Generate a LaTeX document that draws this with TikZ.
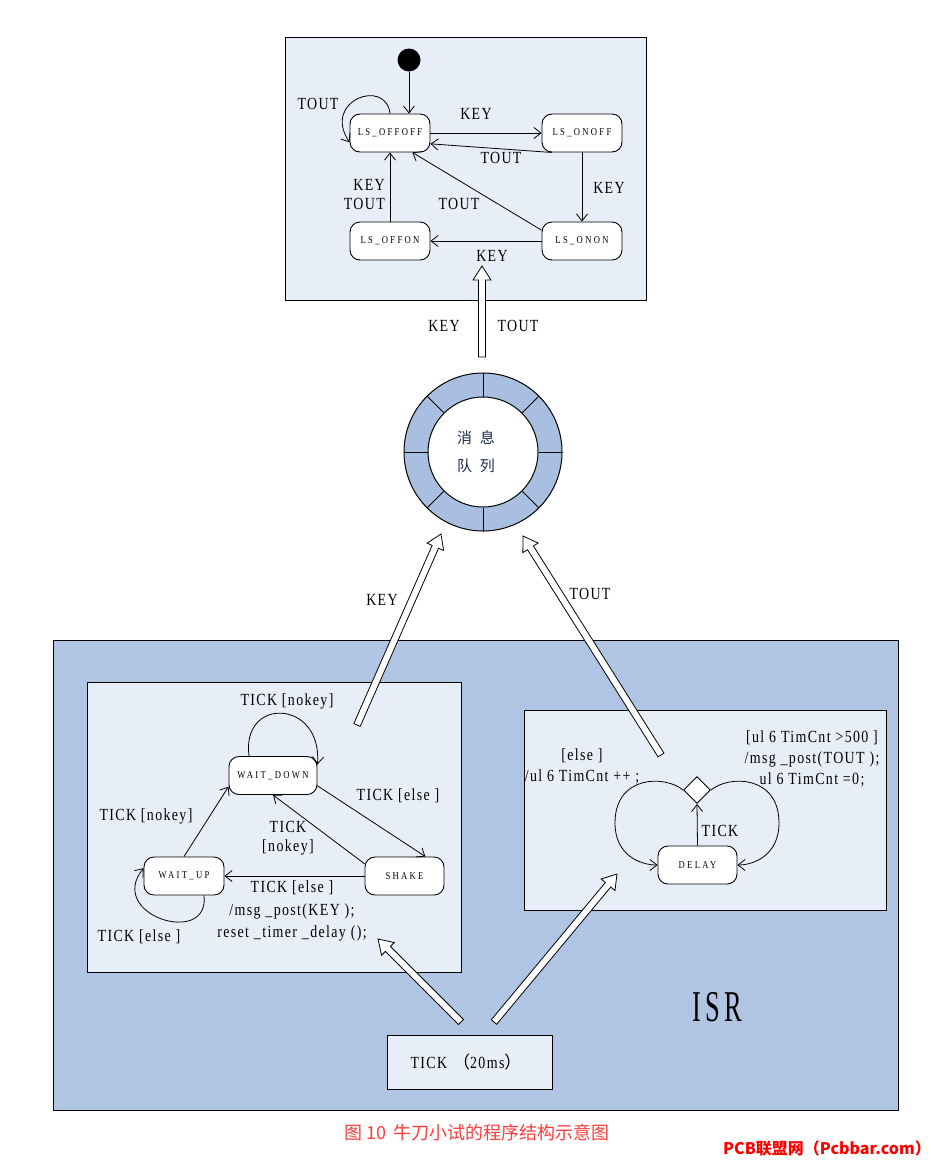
\documentclass[tikz,border=0pt]{standalone}
\usepackage{fontspec}
\setmainfont{Liberation Serif}[FakeStretch=0.82, LetterSpace=8]
\newfontfamily\statefont{Liberation Serif}[FakeStretch=0.82, LetterSpace=22]
\newfontfamily\isrfont{Liberation Serif}[FakeStretch=0.6, LetterSpace=10]
\newfontfamily\cjk{Noto Sans CJK SC}
\usetikzlibrary{arrows.meta,calc,shapes.geometric}
\definecolor{lightbg}{HTML}{E8EEF8}
\definecolor{isrbg}{HTML}{AFC5E3}
\definecolor{ringc}{HTML}{A9BFE1}
\definecolor{capred}{HTML}{FF3B3B}
\definecolor{qtext}{HTML}{1F2A55}
\tikzset{
  state/.style={draw, fill=white, rounded corners=10pt, minimum width=80pt, minimum height=38pt, inner sep=0pt, font=\statefont\fontsize{10.5}{12}\selectfont, line width=0.9pt},
  arr/.style={-{Straight Barb[length=7pt,width=11pt]}, line width=0.8pt},
  lbl/.style={inner sep=0pt, font=\fontsize{17}{19}\selectfont, align=center},
  box/.style={draw, line width=1pt, anchor=north west, inner sep=0pt},
  hollow/.style={draw, fill=white, line width=0.8pt, line join=miter},
}
\newcommand{\hollowarr}[2]{%
  \coordinate (hA) at (#1);
  \coordinate (hB) at (#2);
  \coordinate (hH) at ($(hB)!14pt!(hA)$);
  \draw[hollow] ($(hA)!3.5pt!90:(hB)$) -- ($(hH)!3.5pt!90:(hB)$) -- ($(hH)!9pt!90:(hB)$) -- (hB)
     -- ($(hH)!9pt!-90:(hB)$) -- ($(hH)!3.5pt!-90:(hB)$) -- ($(hA)!3.5pt!-90:(hB)$) -- cycle;}
\begin{document}
\begin{tikzpicture}[x=1pt,y=-1pt]
\useasboundingbox (0,0) rectangle (930,1163);

% ---------- top state machine ----------
\node[box, fill=lightbg, minimum width=361pt, minimum height=263pt] (topbox) at (285,37) {};
\node[circle, fill=black, minimum size=23pt, inner sep=0pt] (init) at (409,60) {};
\node[state] (offoff) at (390,133) {LS\_OFFOFF};
\node[state] (onoff) at (582,133) {LS\_ONOFF};
\node[state] (offon) at (390,241) {LS\_OFFON};
\node[state] (onon) at (582,241) {LS\_ONON};

\draw[arr] (init.south) -- (init.south |- offoff.north);
\draw[arr] (offoff.north) .. controls +(-4,-36) and +(-28,-42) .. (offoff.193);
\draw[arr] (offoff.east) -- (onoff.west);
\draw[arr] ([xshift=10pt]onoff.south west) -- (offoff.-15);
\draw[arr] (onoff.south) -- (onon.north);
\draw[arr] (onon.west) -- (offon.east);
\draw[arr] (onon.165) -- (offoff.-41);
\draw[arr] (offon.north) -- (offoff.south);

\node[lbl] (lt1) at (318,104) {TOUT};
\node[lbl] (lk1) at (476,114) {KEY};
\node[lbl] (lt2) at (501,158) {TOUT};
\node[lbl] (lk2) at (609,188) {KEY};
\node[lbl] (lt3) at (459,204) {TOUT};
\node[lbl, align=right, anchor=east] (lkt) at (385,195) {KEY\\TOUT};
\node[lbl] (lk3) at (492,256) {KEY};

% ---------- message queue ----------
\node[circle, draw, fill=ringc, minimum size=158pt, inner sep=0pt, line width=1pt] (queue) at (483,452) {};
\node[circle, draw, fill=white, minimum size=110pt, inner sep=0pt, line width=1pt] (qin) at (483,452) {};
\foreach \a in {0,45,...,315} \draw[line width=1pt] (qin.\a) -- (queue.\a);
\node[inner sep=0pt, text=qtext, font=\cjk\fontsize{15}{28}\selectfont, align=center] (qtxt) at (476,452) {消\hspace{8pt}息\\队\hspace{8pt}列};

\coordinate (qtop) at (482,357);
\coordinate (qtip) at (482,266);
\hollowarr{qtop}{qtip}
\node[lbl] (hk) at (444,326) {KEY};
\node[lbl] (ht) at (518,326) {TOUT};

% ---------- ISR area ----------
\node[box, fill=isrbg, minimum width=845pt, minimum height=470pt] (isr) at (53,640) {};
\node[box, fill=lightbg, minimum width=374pt, minimum height=290pt] (lbox) at (87,682) {};
\node[box, fill=lightbg, minimum width=362pt, minimum height=200pt] (rbox) at (524,710) {};
\node[box, fill=lightbg, minimum width=165pt, minimum height=54pt] (tick) at (387,1035) {};
\node[lbl] (ticktxt) at (466,1062) {TICK\hspace{6pt}{\cjk （}20ms{\cjk ）}};
\node[inner sep=0pt, font=\isrfont\fontsize{44}{44}\selectfont] (isrlbl) at (717,1007) {ISR};

% left machine
\node[state, minimum width=88pt] (wd) at (273,775.5) {WAIT\_DOWN};
\node[state] (wu) at (184,876) {WAIT\_UP};
\node[state, minimum width=79pt] (shake) at (404.5,876) {SHAKE};

\draw[arr] ([xshift=-24pt]wd.north) .. controls +(-8,-60) and +(5,-65) .. (wd.14);
\draw[arr] (wd.-13) -- (shake.43);
\draw[arr] (shake.163) -- (wd.south);
\draw[arr] (shake.west) -- (wu.east);
\draw[arr] (wu.north) -- (wd.194);
\draw[arr] ([xshift=20pt]wu.south) .. controls +(6,52) and +(-38,47) .. (wu.169);

\node[lbl] (l1) at (287,701) {TICK [nokey]};
\node[lbl] (l2) at (398,796) {TICK [else ]};
\node[lbl] (l3) at (288,838) {TICK\\{}[nokey]};
\node[lbl] (l4) at (146,816) {TICK [nokey]};
\node[lbl, font=\fontsize{17}{22.5}\selectfont] (l5) at (292,911) {TICK [else ]\\/msg \_post(KEY );\\reset \_timer \_delay ();};
\node[lbl] (l6) at (139,937) {TICK [else ]};

% right machine
\node[state, minimum width=79pt] (delay) at (697.5,865) {DELAY};
\node[diamond, draw, fill=white, aspect=1, minimum size=27pt, inner sep=0pt, line width=0.9pt] (dia) at (697,790) {};
\draw[arr] (delay.north) -- (dia.south);
\draw[arr] (dia.west) .. controls (665,775) and (615,775) .. (615,823) .. controls (615,855) and (640,865) .. (delay.west);
\draw[arr] (dia.east) .. controls (729,775) and (779,775) .. (779,823) .. controls (779,855) and (754,865) .. (delay.east);
\node[lbl] (r1) at (720,831) {TICK};
\node[lbl, font=\fontsize{17}{21}\selectfont] (r2) at (582,766) {[else ]\\/ul 6 TimCnt ++ ;};
\node[lbl, font=\fontsize{17}{21}\selectfont] (r3) at (812,759) {[ul 6 TimCnt >500 ]\\/msg \_post(TOUT );\\ul 6 TimCnt =0;};

% hollow arrows
\coordinate (kfrom) at (357,725);
\coordinate (kto) at (441,534);
\hollowarr{kfrom}{kto}
\coordinate (tfrom) at (661,755);
\coordinate (tto) at (523,536);
\hollowarr{tfrom}{tto}
\coordinate (tl1) at (461,1022);
\coordinate (tl2) at (378,939);
\hollowarr{tl1}{tl2}
\coordinate (tr1) at (494,1022);
\coordinate (tr2) at (617,874);
\hollowarr{tr1}{tr2}
\node[lbl] (hk2) at (382,600) {KEY};
\node[lbl] (ht2) at (590,594) {TOUT};

% captions
\node[inner sep=0pt, text=capred, font=\cjk\fontsize{18}{20}\selectfont] (cap) at (477,1133) {图 10\, 牛刀小试的程序结构示意图};
\node[inner sep=0pt, text=red, font=\cjk\bfseries\fontsize{16}{18}\selectfont] (pcb) at (827,1148) {PCB联盟网（Pcbbar.com）};
\end{tikzpicture}
\end{document}
